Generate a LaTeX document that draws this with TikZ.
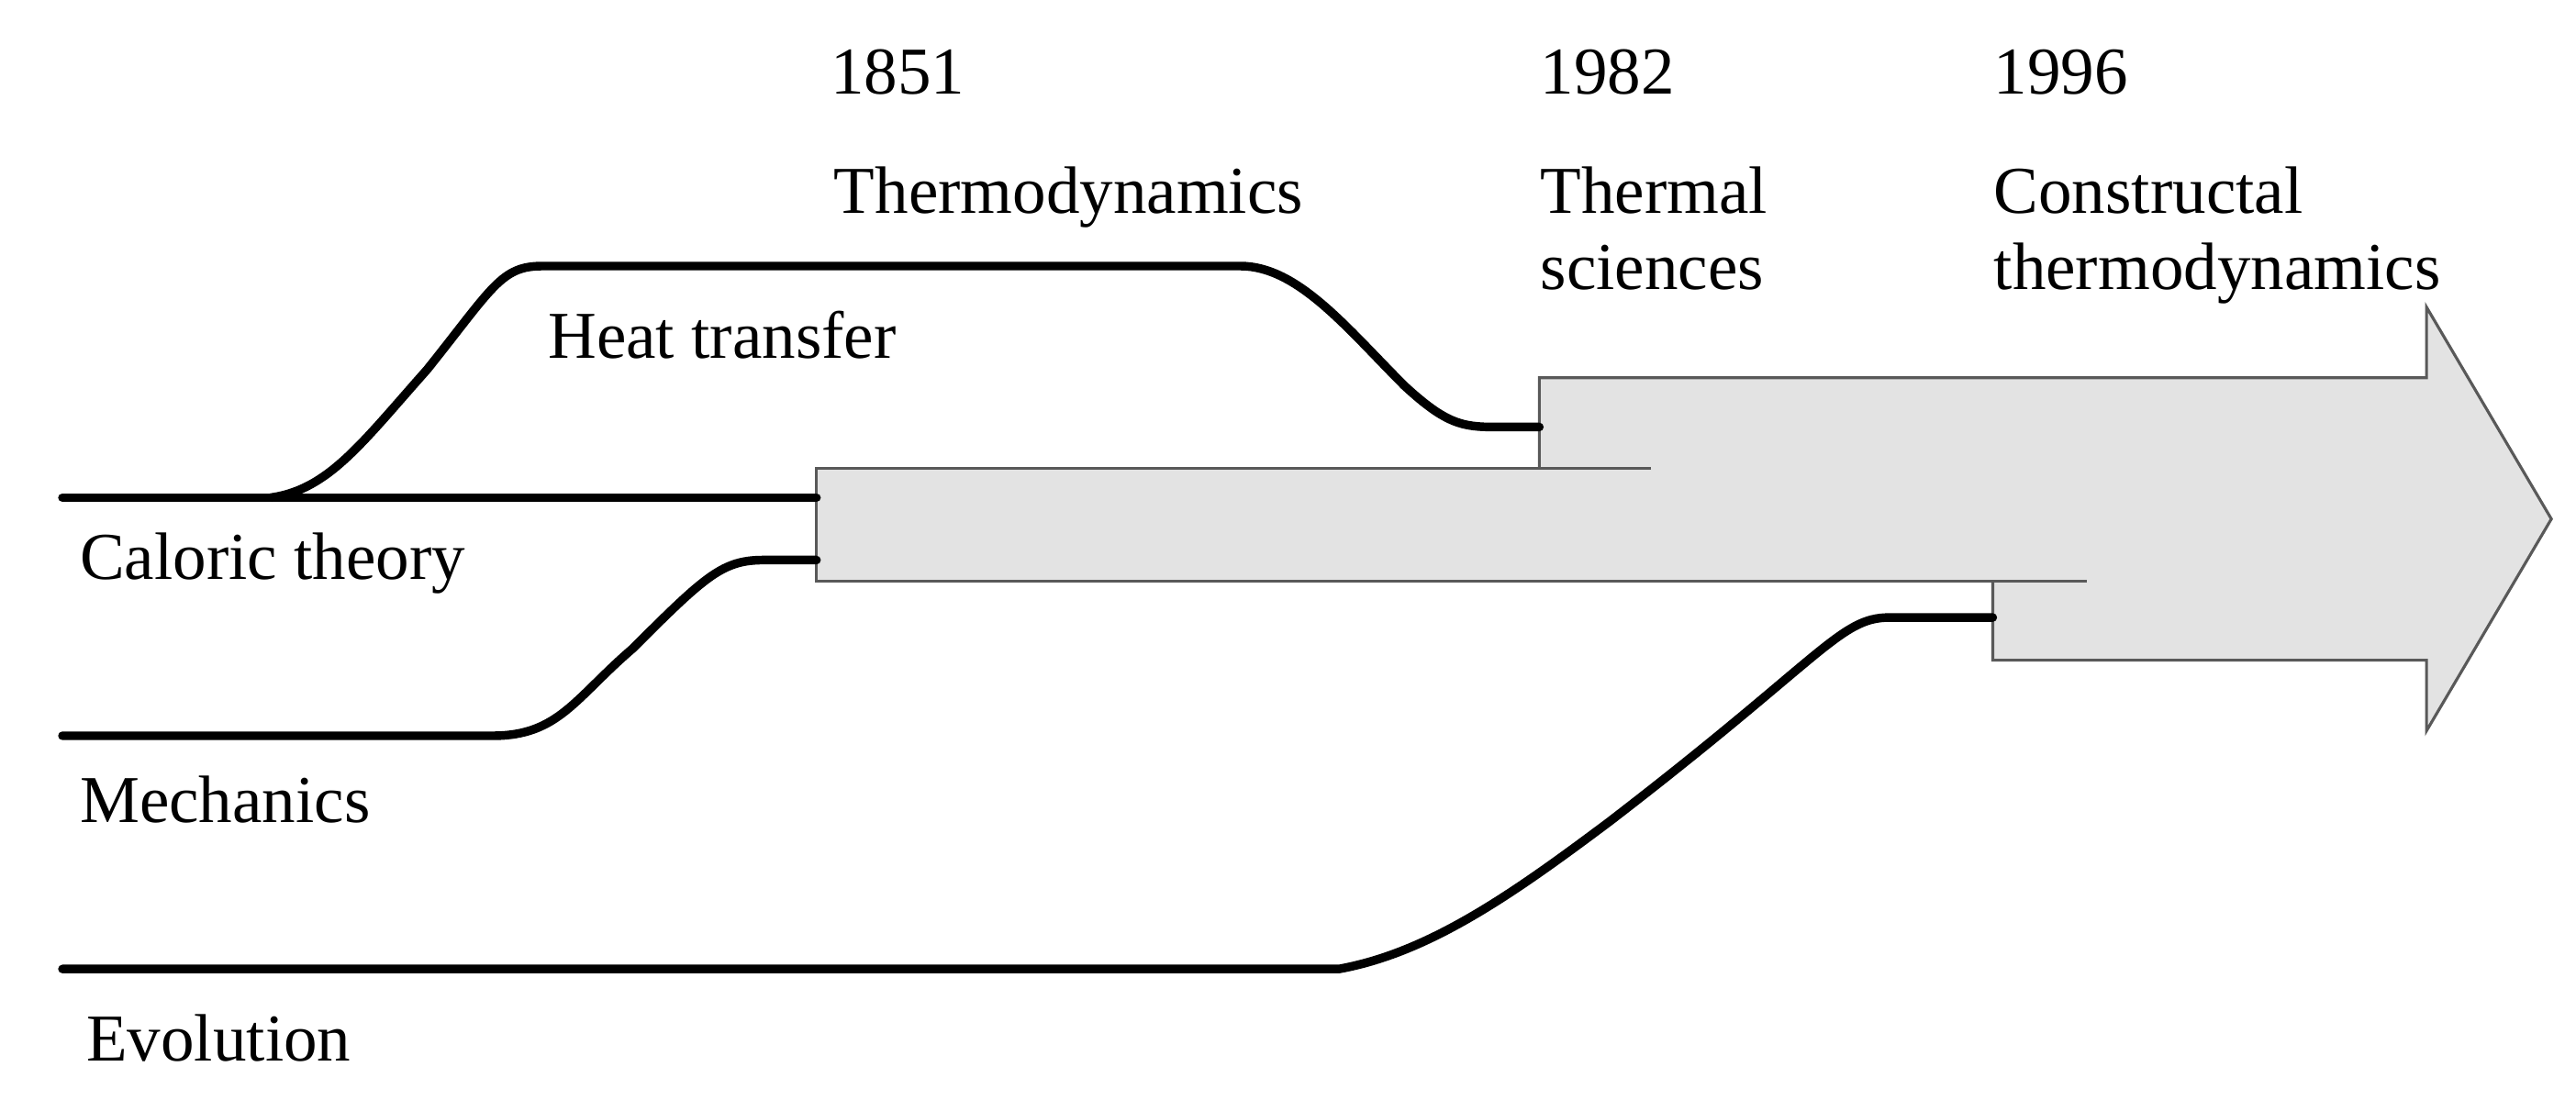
\documentclass[tikz,border=0pt]{standalone}
\usepackage{fontspec}
\setmainfont{Liberation Serif}
\begin{document}
\begin{tikzpicture}[x=0.01cm,y=-0.01cm,
  lab/.style={anchor=base west,inner sep=0pt,font=\fontsize{11.6}{14}\selectfont},
  flow/.style={line width=1.5pt,line cap=round},
  edge/.style={draw=black!65,line width=0.5pt}]
\useasboundingbox (0,0) rectangle (1568,676);
% fills
\fill[black!11] (497,285) rectangle (1270,354);
\fill[black!11] (937,285) -- (937,230) -- (1477,230) -- (1477,187) -- (1553,316) -- (1477,445) -- (1477,402) -- (1213,402) -- (1213,354) -- cycle;
\fill[black!11] (937,285) rectangle (1270,354);
% outlines
\draw[edge] (1005,285) -- (497,285) -- (497,354) -- (1270,354);
\draw[edge] (937,285) -- (937,230) -- (1477,230) -- (1477,187) -- (1553,316) -- (1477,445) -- (1477,402) -- (1213,402) -- (1213,354);
% anchors
\coordinate (c0) at (38,303); \coordinate (c1) at (497,303);
\coordinate (h0) at (165,303); \coordinate (h1) at (937,260);
\coordinate (m0) at (38,448); \coordinate (m1) at (497,341);
\coordinate (e0) at (38,590); \coordinate (e1) at (1213,376);
\draw[flow] (c0) -- (c1);
\draw[flow] (h0) .. controls (200,298) and (220,270) .. (260,225) .. controls (300,175) and (305,162) .. (330,162) -- (755,162) .. controls (790,162) and (820,200) .. (855,235) .. controls (880,258) and (890,260) .. (910,260) -- (h1);
\draw[flow] (m0) -- (300,448) .. controls (340,448) and (350,425) .. (385,395) .. controls (430,350) and (440,341) .. (465,341) -- (m1);
\draw[flow] (e0) -- (815,590) .. controls (870,580) and (920,545) .. (980,500) .. controls (1110,400) and (1120,376) .. (1150,376) -- (e1);
% labels
\node[lab] (y1) at (505,57) {1851};
\node[lab] (t1) at (507,130) {Thermodynamics};
\node[lab] (y2) at (937,57) {1982};
\node[lab] (t2) at (937,130) {Thermal};
\node[lab] (t2b) at (937,176) {sciences};
\node[lab] (y3) at (1213,57) {1996};
\node[lab] (t3) at (1213,130) {Constructal};
\node[lab] (t3b) at (1213,176) {thermodynamics};
\node[lab] (ht) at (333,218) {Heat transfer};
\node[lab] (ct) at (48,353) {Caloric theory};
\node[lab] (me) at (48,501) {Mechanics};
\node[lab] (ev) at (52,646) {Evolution};
\end{tikzpicture}
\end{document}
